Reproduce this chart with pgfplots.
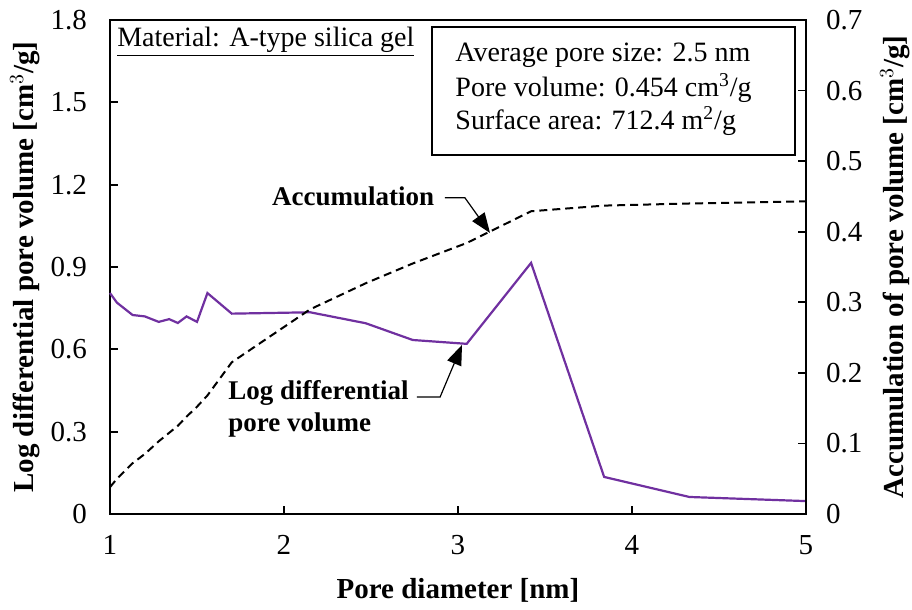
\documentclass[border=0pt]{standalone}
\usepackage{pgfplots}
\pgfplotsset{compat=1.18}
\usepackage{fontspec}
\setmainfont{Liberation Serif}
\usetikzlibrary{arrows.meta}
\definecolor{lineviolet}{RGB}{112,48,160}

\pgfplotstableread{
x      logdv  acc
1.00   0.805  0.038
1.04   0.770  0.050
1.13   0.725  0.072
1.20   0.720  0.085
1.28   0.700  0.103
1.34   0.710  0.115
1.39   0.696  0.125
1.44   0.720  0.138
1.50   0.700  0.152
1.56   0.805  0.168
1.70   0.730  0.215
2.15   0.735  0.290
2.47   0.695  0.327
2.74   0.634  0.355
3.05   0.620  0.384
3.42   0.915  0.429
3.84   0.135  0.437
4.33   0.062  0.440
5.00   0.047  0.443
}\poredata

\pgfplotsset{
  common/.style={
    scale only axis, width=348pt, height=247pt,
    xmin=1, xmax=5,
    tick align=inside,
    major tick length=4pt,
    axis line style={line width=0.9pt},
    every tick/.style={black, line width=0.9pt},
    tick label style={font=\fontsize{14.5}{16}\selectfont},
    label style={font=\fontsize{14.5}{17}\selectfont\bfseries},
    /pgf/number format/assume math mode=true,
  }
}

\begin{document}
\begin{tikzpicture}
  \path[use as bounding box] (-55pt,-48pt) rectangle (401pt,257pt);
  \begin{axis}[
    common,
    ymin=0, ymax=1.8,
    xtick={1,2,3,4,5},
    ytick={0,0.3,0.6,0.9,1.2,1.5,1.8},
    yticklabels={0,0.3,0.6,0.9,1.2,1.5,1.8},
    xtick pos=lower, ytick pos=left,
    xticklabel style={yshift=-7pt},
    yticklabel style={xshift=-8pt},
    xlabel={Pore diameter [nm]},
    xlabel style={at={(axis description cs:0.5,-0.1538)}, anchor=center},
    ylabel={Log differential pore volume [cm$^{3}$/g]},
    ylabel style={at={(axis description cs:-0.1221,0.5)}, anchor=center},
    clip=false]
    \addplot[color=lineviolet, line width=1.1pt] table[x=x, y=logdv] {\poredata};

    % annotations
    \node[font=\fontsize{14}{16}\selectfont, anchor=west, inner sep=0pt]
      at (axis cs:1.04,1.72) {\underline{Material: A-type silica gel}};
    \draw[line width=0.7pt, fill=white] (axis cs:2.851,1.775) rectangle (axis cs:4.937,1.308);
    \node[font=\fontsize{14}{16}\selectfont, anchor=west, inner sep=0pt]
      at (axis cs:2.983,1.673) {Average pore size: 2.5 nm};
    \node[font=\fontsize{14}{16}\selectfont, anchor=west, inner sep=0pt]
      at (axis cs:2.983,1.552) {Pore volume: 0.454 cm\textsuperscript{3}/g};
    \node[font=\fontsize{14}{16}\selectfont, anchor=west, inner sep=0pt]
      at (axis cs:2.983,1.432) {Surface area: 712.4 m\textsuperscript{2}/g};

    \node[font=\fontsize{13.5}{16}\selectfont\bfseries, inner sep=0pt]
      at (axis cs:2.397,1.159) {Accumulation};
    \draw[line width=0.6pt, -{Triangle[length=10pt,width=7.5pt]}]
      (axis cs:2.925,1.152) -- (axis cs:3.040,1.152) -- (axis cs:3.184,1.024);

    \node[font=\fontsize{13.5}{16}\selectfont\bfseries, anchor=west, inner sep=0pt]
      at (axis cs:1.678,0.441) {Log differential};
    \node[font=\fontsize{13.5}{16}\selectfont\bfseries, anchor=west, inner sep=0pt]
      at (axis cs:1.678,0.324) {pore volume};
    \draw[line width=0.6pt, -{Triangle[length=10pt,width=7.5pt]}]
      (axis cs:2.764,0.426) -- (axis cs:2.897,0.426) -- (axis cs:3.023,0.616);
  \end{axis}

  \begin{axis}[
    common,
    ymin=0, ymax=0.7,
    axis x line=none,
    axis y line*=right,
    ytick={0,0.1,0.2,0.3,0.4,0.5,0.6,0.7},
    yticklabels={0,0.1,0.2,0.3,0.4,0.5,0.6,0.7},
    yticklabel style={xshift=6.5pt},
    ylabel={Accumulation of pore volume [cm$^{3}$/g]},
    ylabel style={at={(axis description cs:1.1279,0.5)}, anchor=center}]
    \addplot[black, line width=1pt, dash pattern=on 4pt off 2.5pt] table[x=x, y=acc] {\poredata};
  \end{axis}
\end{tikzpicture}
\end{document}
